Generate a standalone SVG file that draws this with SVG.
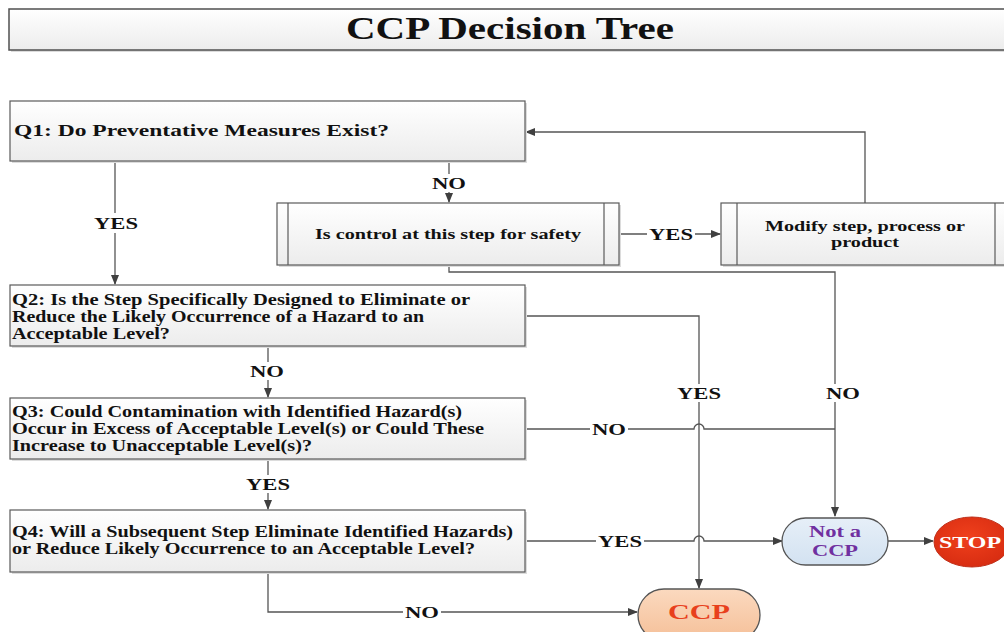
<svg xmlns="http://www.w3.org/2000/svg" width="1004" height="632" viewBox="0 0 1004 632">
<defs>
<linearGradient id="gbox" x1="0" y1="0" x2="0" y2="1"><stop offset="0" stop-color="#ffffff"/><stop offset="1" stop-color="#ececec"/></linearGradient>
<linearGradient id="gblue" x1="0" y1="0" x2="0" y2="1"><stop offset="0" stop-color="#e6eff8"/><stop offset="1" stop-color="#d3e2f1"/></linearGradient>
<linearGradient id="gpeach" x1="0" y1="0" x2="0" y2="1"><stop offset="0" stop-color="#fbd9bf"/><stop offset="1" stop-color="#f5bf98"/></linearGradient>
<radialGradient id="gred" cx="0.45" cy="0.4" r="0.7"><stop offset="0" stop-color="#f0401c"/><stop offset="1" stop-color="#d42a10"/></radialGradient>
<marker id="arr" markerWidth="10" markerHeight="8" refX="9" refY="4" orient="auto" markerUnits="userSpaceOnUse"><path d="M0,0 L10,4 L0,8 Z" fill="#404040"/></marker>
<style>
.box{fill:url(#gbox);stroke:#5a5a5a;stroke-width:1.2}
.sh{fill:#dcdcdc}
.in{stroke:#5a5a5a;stroke-width:1.2}
.t{font-family:"Liberation Serif","Times New Roman",serif;font-weight:bold;fill:#111}
.q{font-size:16px}
.lbl{font-size:17px;text-anchor:middle}
.c{stroke:#555;stroke-width:1.3;fill:none}
.bg{fill:#fff}
</style>
</defs>

<g id="title">
<rect class="sh" x="11" y="11" width="1005" height="41"/>
<rect x="9" y="9" width="1005" height="41" fill="url(#gbox)" stroke="#505050" stroke-width="1.5"/>
<text class="t" x="510" y="39" font-size="31" text-anchor="middle" textLength="328" lengthAdjust="spacingAndGlyphs">CCP Decision Tree</text>
</g>

<g id="connectors">
<path class="c" d="M115,161 V284" marker-end="url(#arr)"/>
<path class="c" d="M449,161 V202" marker-end="url(#arr)"/>
<path class="c" d="M619,234 H720" marker-end="url(#arr)"/>
<path class="c" d="M865,203 V132 H526" marker-end="url(#arr)"/>
<path class="c" d="M449,265 V272 H835 V516" marker-end="url(#arr)"/>
<path class="c" d="M525,316 H699 V588" marker-end="url(#arr)"/>
<path class="c" d="M268,346 V397" marker-end="url(#arr)"/>
<path class="c" d="M525,429 H694 A5,5 0 0 1 704,429 H835"/>
<path class="c" d="M268,459 V509" marker-end="url(#arr)"/>
<path class="c" d="M525,541 H694 A5,5 0 0 1 704,541 H782" marker-end="url(#arr)"/>
<path class="c" d="M268,572 V612 H637" marker-end="url(#arr)"/>
<path class="c" d="M888,541 H933" marker-end="url(#arr)"/>

<rect class="bg" x="92" y="213" width="48" height="20"/>
<text class="t lbl" x="116" y="229" textLength="44" lengthAdjust="spacingAndGlyphs">YES</text>
<rect class="bg" x="430" y="174" width="38" height="18"/>
<text class="t lbl" x="449" y="189" textLength="34" lengthAdjust="spacingAndGlyphs">NO</text>
<rect class="bg" x="647" y="225" width="48" height="18"/>
<text class="t lbl" x="671" y="240" textLength="44" lengthAdjust="spacingAndGlyphs">YES</text>
<rect class="bg" x="248" y="362" width="38" height="18"/>
<text class="t lbl" x="267" y="377" textLength="34" lengthAdjust="spacingAndGlyphs">NO</text>
<rect class="bg" x="244" y="475" width="48" height="18"/>
<text class="t lbl" x="268" y="490" textLength="44" lengthAdjust="spacingAndGlyphs">YES</text>
<rect class="bg" x="675" y="384" width="48" height="18"/>
<text class="t lbl" x="699" y="399" textLength="44" lengthAdjust="spacingAndGlyphs">YES</text>
<rect class="bg" x="824" y="384" width="38" height="18"/>
<text class="t lbl" x="843" y="399" textLength="34" lengthAdjust="spacingAndGlyphs">NO</text>
<rect class="bg" x="590" y="420" width="38" height="18"/>
<text class="t lbl" x="609" y="435" textLength="34" lengthAdjust="spacingAndGlyphs">NO</text>
<rect class="bg" x="596" y="532" width="48" height="18"/>
<text class="t lbl" x="620" y="547" textLength="44" lengthAdjust="spacingAndGlyphs">YES</text>
<rect class="bg" x="403" y="603" width="38" height="18"/>
<text class="t lbl" x="422" y="618" textLength="34" lengthAdjust="spacingAndGlyphs">NO</text>
</g>

<g id="q1">
<rect class="sh" x="12" y="103" width="515" height="60"/>
<rect class="box" x="10" y="101" width="515" height="60"/>
<text class="t q" x="14" y="136" textLength="375" lengthAdjust="spacingAndGlyphs">Q1: Do Preventative Measures Exist?</text>
</g>

<g id="control">
<rect class="sh" x="279" y="205" width="342" height="62"/>
<rect class="box" x="277" y="203" width="342" height="62"/>
<line class="in" x1="288" y1="203" x2="288" y2="265"/>
<line class="in" x1="604" y1="203" x2="604" y2="265"/>
<text class="t" x="448" y="239" font-size="15" text-anchor="middle" textLength="266" lengthAdjust="spacingAndGlyphs">Is control at this step for safety</text>
</g>

<g id="modify">
<rect class="sh" x="723" y="205" width="295" height="62"/>
<rect class="box" x="721" y="203" width="295" height="62"/>
<line class="in" x1="737" y1="203" x2="737" y2="265"/>
<line class="in" x1="995" y1="203" x2="995" y2="265"/>
<text class="t" x="865" y="231" font-size="15" text-anchor="middle" textLength="200" lengthAdjust="spacingAndGlyphs">Modify step, process or</text>
<text class="t" x="865" y="247" font-size="15" text-anchor="middle" textLength="68" lengthAdjust="spacingAndGlyphs">product</text>
</g>

<g id="q2">
<rect class="sh" x="12" y="287" width="515" height="61"/>
<rect class="box" x="10" y="285" width="515" height="61"/>
<text class="t q" x="12" y="305" textLength="458" lengthAdjust="spacingAndGlyphs">Q2: Is the Step Specifically Designed to Eliminate or</text>
<text class="t q" x="12" y="322" textLength="412" lengthAdjust="spacingAndGlyphs">Reduce the Likely Occurrence of a Hazard to an</text>
<text class="t q" x="12" y="339" textLength="158" lengthAdjust="spacingAndGlyphs">Acceptable Level?</text>
</g>

<g id="q3">
<rect class="sh" x="12" y="400" width="515" height="61"/>
<rect class="box" x="10" y="398" width="515" height="61"/>
<text class="t q" x="12" y="417" textLength="450" lengthAdjust="spacingAndGlyphs">Q3: Could Contamination with Identified Hazard(s)</text>
<text class="t q" x="12" y="434" textLength="472" lengthAdjust="spacingAndGlyphs">Occur in Excess of Acceptable Level(s) or Could These</text>
<text class="t q" x="12" y="451" textLength="300" lengthAdjust="spacingAndGlyphs">Increase to Unacceptable Level(s)?</text>
</g>

<g id="q4">
<rect class="sh" x="12" y="512" width="515" height="62"/>
<rect class="box" x="10" y="510" width="515" height="62"/>
<text class="t q" x="12" y="537" textLength="501" lengthAdjust="spacingAndGlyphs">Q4: Will a Subsequent Step Eliminate Identified Hazards)</text>
<text class="t q" x="12" y="554" textLength="463" lengthAdjust="spacingAndGlyphs">or Reduce Likely Occurrence to an Acceptable Level?</text>
</g>

<g id="notccp">
<rect x="782" y="518" width="106" height="47" rx="23.5" fill="url(#gblue)" stroke="#555" stroke-width="1.3"/>
<text class="t" x="835" y="537" font-size="17" text-anchor="middle" style="fill:#7030a0" textLength="52" lengthAdjust="spacingAndGlyphs">Not a</text>
<text class="t" x="835" y="556" font-size="17" text-anchor="middle" style="fill:#7030a0" textLength="46" lengthAdjust="spacingAndGlyphs">CCP</text>
</g>

<g id="stop">
<ellipse cx="972" cy="542" rx="38" ry="25" fill="url(#gred)" stroke="#c0301a" stroke-width="1"/>
<text class="t" x="970" y="548" font-size="16" text-anchor="middle" style="fill:#fff" textLength="62" lengthAdjust="spacingAndGlyphs">STOP</text>
</g>

<g id="ccp">
<rect x="638" y="589" width="122" height="52" rx="26" fill="url(#gpeach)" stroke="#555" stroke-width="1.3"/>
<text class="t" x="699" y="619" font-size="21" text-anchor="middle" style="fill:#e8401c" textLength="62" lengthAdjust="spacingAndGlyphs">CCP</text>
</g>
</svg>
